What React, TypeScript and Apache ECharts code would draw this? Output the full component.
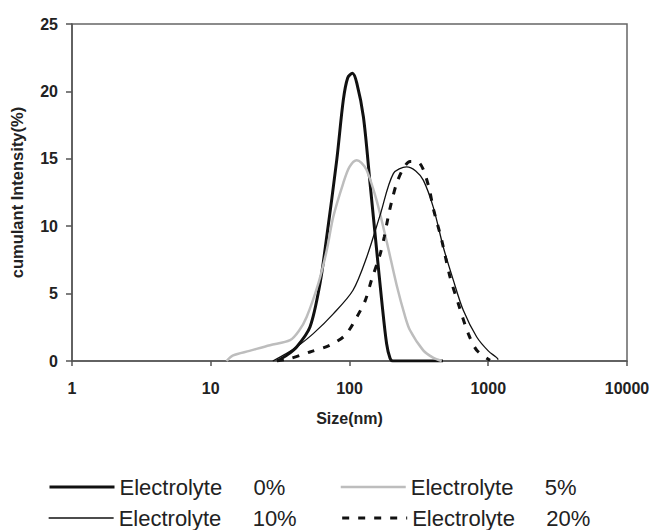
import React, { useEffect, useRef } from "react";
import * as echarts from "echarts";

const xTicks = [1, 10, 100, 1000, 10000];
const yTicks = [0, 5, 10, 15, 20, 25];

const sizes0 = [30, 35, 41.6, 51.9, 61.3, 68.5, 80.9, 90.2, 97, 105, 113, 126, 140.6, 157, 170.6, 185, 196, 205, 300, 472];
const values0 = [0, 0.4, 1.04, 2.52, 5.75, 9.2, 14.9, 19.35, 21.0, 21.34, 20.6, 18.1, 13.2, 8.2, 4.5, 1.3, 0.2, 0, 0, 0];

const sizes5 = [13, 14.5, 19, 26.7, 37.3, 43, 49.1, 59.6, 68.5, 76.4, 90.2, 100, 112.7, 122, 133, 157, 185, 219, 250, 273, 340, 400, 462];
const values5 = [0, 0.42, 0.75, 1.17, 1.54, 2.2, 3.27, 5.75, 8.2, 10.7, 13.2, 14.4, 14.9, 14.7, 14.16, 11.9, 8.9, 5.6, 3.4, 2.28, 0.79, 0.25, 0];

const sizes10 = [28, 35, 41.6, 54.8, 76.4, 106, 133, 166, 207, 258, 300, 341, 402, 474, 560, 661, 826, 1000, 1151, 1180];
const values10 = [0, 0.55, 1.04, 2.03, 3.5, 5.25, 7.7, 10.8, 13.9, 14.4, 14.1, 13.4, 11.4, 8.46, 6.0, 3.76, 1.78, 0.75, 0.25, 0.1];

const sizes20 = [30, 37.3, 51.9, 72, 92.8, 113, 130, 144, 166, 178, 190, 201, 219, 245, 273, 322, 370, 402, 462, 530, 608, 718, 826, 1030];
const values20 = [0, 0.18, 0.67, 1.17, 1.9, 3.27, 4.5, 6.0, 7.9, 9.2, 10.7, 11.8, 13.2, 14.3, 14.8, 14.65, 13.04, 11.3, 8.96, 6.24, 4.26, 2.03, 0.8, 0.05];

const seriesNames = ["Electrolyte 0%", "Electrolyte 5%", "Electrolyte 10%", "Electrolyte 20%"];
const seriesColors = ["#111", "#bdbdbd", "#111", "#111"];
const seriesWidths = [3, 2.5, 1.3, 3];
const seriesTypes: any[] = ["solid", "solid", "solid", [7, 9]];

const pair = (xs: number[], ys: number[]) => xs.map((x, i) => [x, ys[i]]);

export default function App() {
  const ref = useRef<HTMLDivElement>(null);
  useEffect(() => {
    if (!ref.current) return;
    const chart = echarts.init(ref.current, null, { renderer: "svg" });
    const font = "'Liberation Sans', Arial, Helvetica, sans-serif";
    const legendItem = (i: number) => ({
      name: seriesNames[i],
      lineStyle: { color: seriesColors[i], width: seriesWidths[i], type: seriesTypes[i] },
    });
    const legendCommon = {
      orient: "horizontal" as const,
      left: 48,
      padding: 0,
      itemWidth: 65,
      itemHeight: 14,
      itemGap: 44,
      itemStyle: { opacity: 0 },
      formatter: (name: string) => {
        const parts = name.split(" ");
        return `{a|${parts[0]}}{b|${parts[1]}}`;
      },
      textStyle: {
        fontFamily: font,
        fontSize: 22,
        color: "#222",
        rich: {
          a: { width: 134, fontSize: 22, fontFamily: font, color: "#222", lineHeight: 22 },
          b: { width: 42, fontSize: 22, fontFamily: font, color: "#222", lineHeight: 22 },
        },
      },
    };
    const lineSeries = (i: number, data: number[][]) => ({
      name: seriesNames[i],
      type: "line",
      data,
      symbol: "none",
      showSymbol: false,
      smooth: 0.3,
      lineStyle: { color: seriesColors[i], width: seriesWidths[i], type: seriesTypes[i] },
      itemStyle: { color: seriesColors[i] },
    });
    chart.setOption({
      animation: false,
      backgroundColor: "#fff",
      grid: {
        left: 72,
        top: 24,
        width: 555,
        height: 337,
        show: true,
        borderColor: "#666",
        borderWidth: 1.5,
        backgroundColor: "transparent",
      },
      xAxis: {
        type: "log",
        logBase: 10,
        min: xTicks[0],
        max: xTicks[xTicks.length - 1],
        name: "Size(nm)",
        nameLocation: "middle",
        nameGap: 49,
        nameTextStyle: { fontFamily: font, fontSize: 16, fontWeight: "bold", color: "#222" },
        axisLine: { show: true, lineStyle: { color: "#555", width: 1.5 } },
        axisTick: { show: true, length: 5, lineStyle: { color: "#555", width: 1.5 } },
        splitLine: { show: false },
        minorTick: { show: false },
        axisLabel: {
          margin: 19,
          fontFamily: font,
          fontSize: 16,
          fontWeight: "bold",
          color: "#222",
          formatter: (v: number) => String(Math.round(v)),
        },
      },
      yAxis: {
        type: "value",
        min: yTicks[0],
        max: yTicks[yTicks.length - 1],
        interval: 5,
        name: "cumulant Intensity(%)",
        nameLocation: "middle",
        nameGap: 47,
        nameTextStyle: { fontFamily: font, fontSize: 16.5, fontWeight: "bold", color: "#222" },
        axisLine: { show: true, lineStyle: { color: "#555", width: 1.5 } },
        axisTick: { show: true, length: 6, lineStyle: { color: "#555", width: 1.5 } },
        splitLine: { show: false },
        axisLabel: {
          margin: 14,
          fontFamily: font,
          fontSize: 16,
          fontWeight: "bold",
          color: "#222",
        },
      },
      legend: [
        { ...legendCommon, top: 476, data: [legendItem(0), legendItem(1)] },
        { ...legendCommon, top: 507, data: [legendItem(2), legendItem(3)] },
      ],
      series: [
        lineSeries(0, pair(sizes0, values0)),
        lineSeries(1, pair(sizes5, values5)),
        lineSeries(2, pair(sizes10, values10)),
        lineSeries(3, pair(sizes20, values20)),
      ],
    });
    return () => chart.dispose();
  }, []);
  return (
    <div
      ref={ref}
      style={{ position: "fixed", left: 0, top: 0, width: 653, height: 530, background: "#fff" }}
    />
  );
}
